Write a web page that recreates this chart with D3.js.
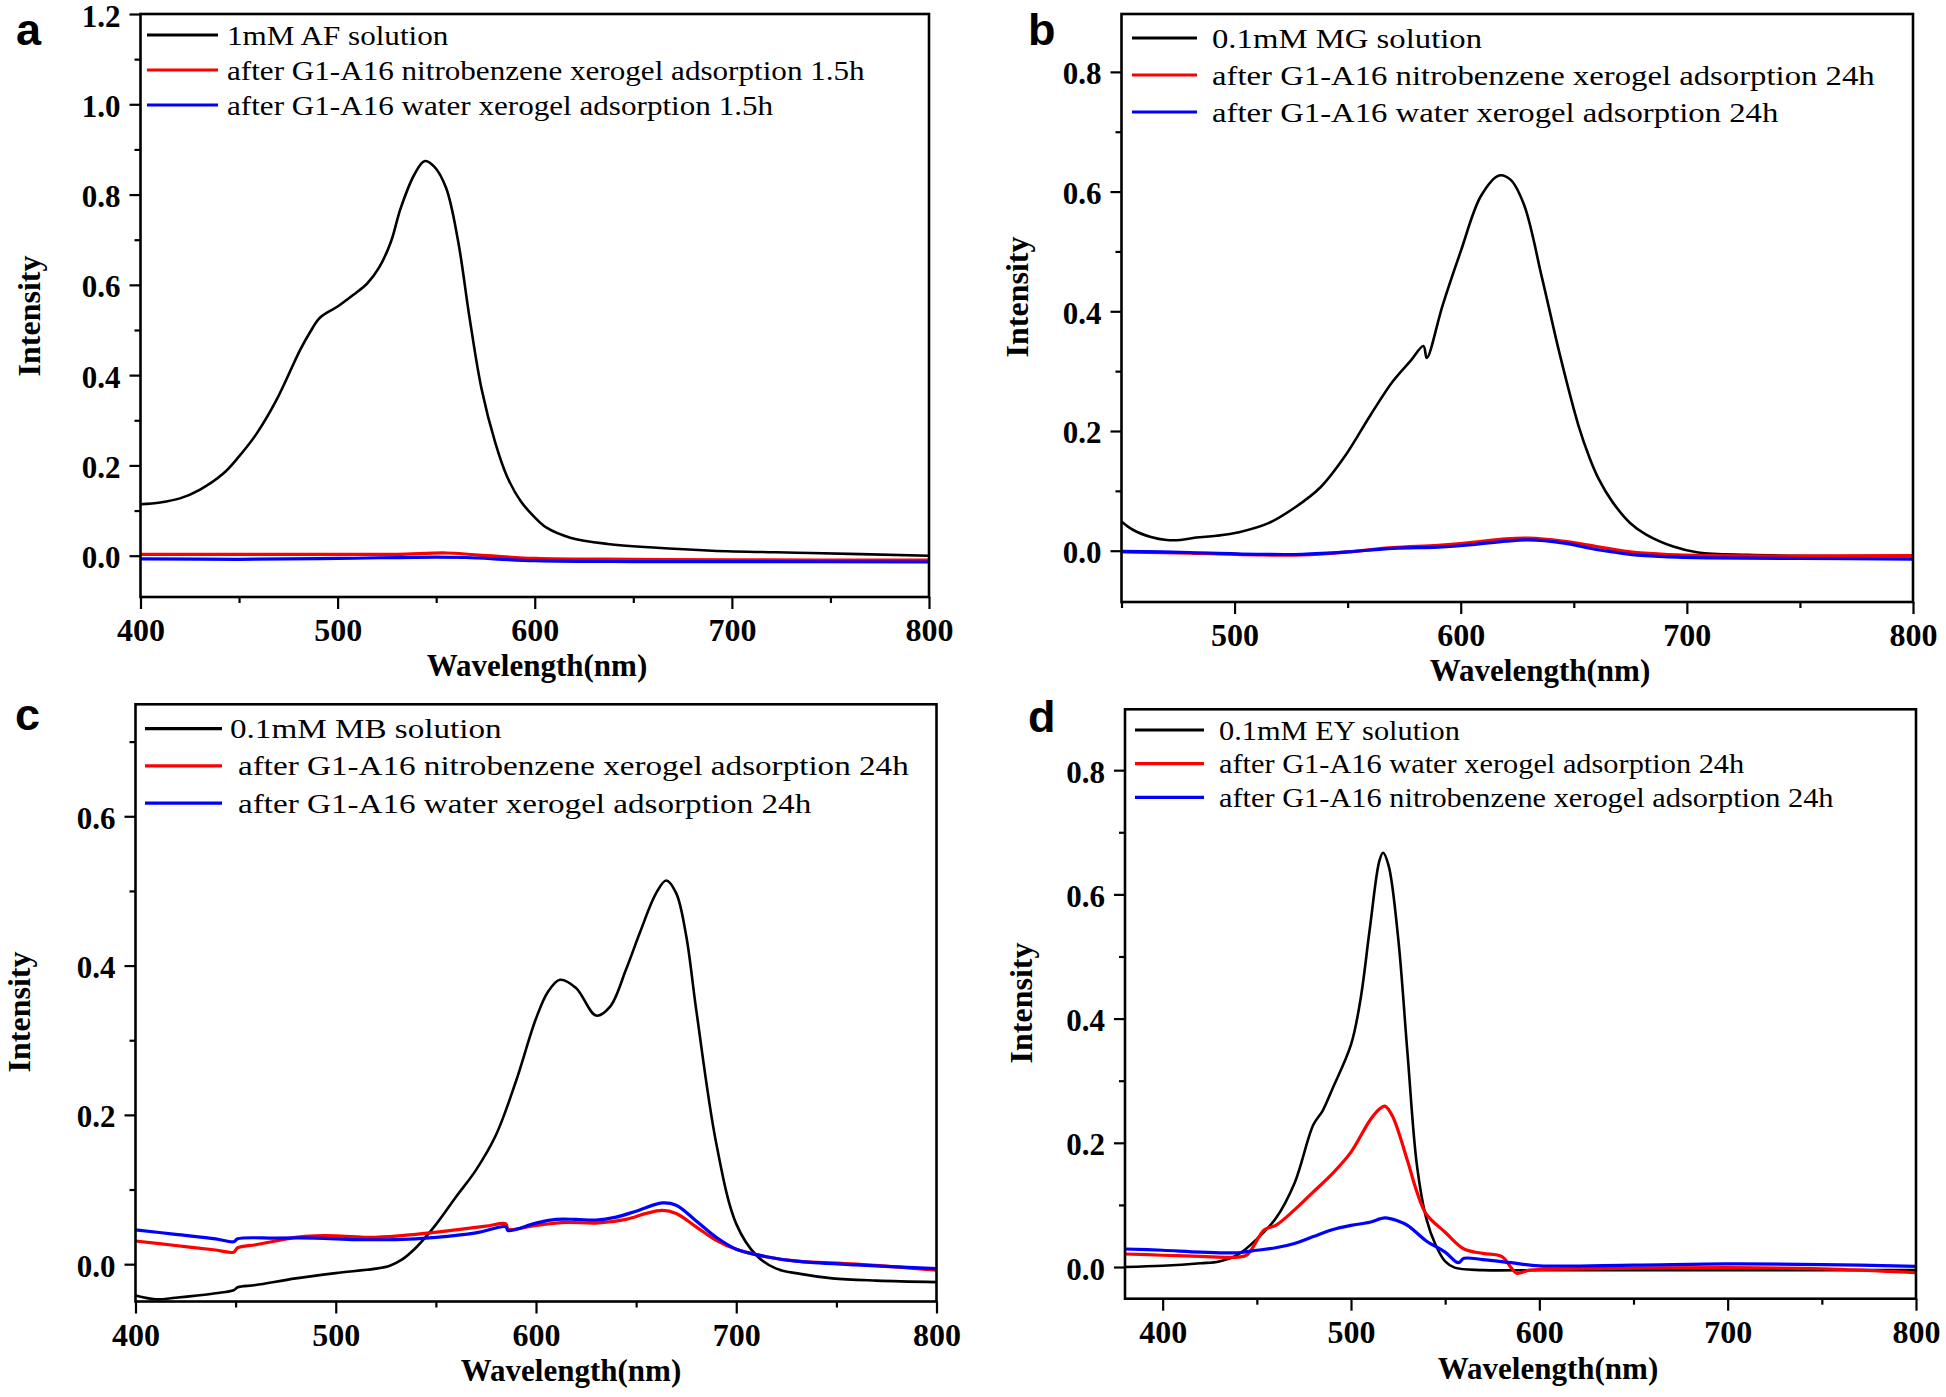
<!DOCTYPE html>
<html><head><meta charset="utf-8">
<script src="https://cdn.jsdelivr.net/npm/d3@7"></script>
<style>
html,body{margin:0;padding:0;background:#fff;}
svg{display:block;}
</style></head><body>
<svg id="chart" width="1946" height="1397"></svg>
<script>
// ---------------- DATA ----------------
// Panel a: 1mM AF
const aSolution = [[400,0.114],[410,0.118],[420,0.127],[430,0.146],[442,0.182],[450,0.220],[459,0.271],[469,0.345],[481,0.456],[486,0.495],[491,0.527],[500,0.552],[508,0.578],[515,0.603],[521,0.638],[527,0.695],[532,0.770],[539,0.845],[544,0.874],[549,0.862],[555,0.815],[561,0.700],[567,0.525],[573,0.370],[580,0.250],[586,0.175],[593,0.120],[600,0.085],[606,0.062],[618,0.040],[637,0.026],[660,0.018],[690,0.011],[740,0.006],[800,0.000]];
const aNitro = [[400,0.003],[450,0.003],[500,0.003],[530,0.003],[555,0.006],[570,0.002],[600,-0.006],[650,-0.008],[700,-0.009],[800,-0.010]];
const aWater = [[400,-0.007],[450,-0.008],[500,-0.006],[550,-0.003],[565,-0.004],[600,-0.011],[650,-0.013],[700,-0.013],[800,-0.014]];

// Panel b: 0.1mM MG
const bSolution = [[450,0.049],[455,0.035],[463,0.023],[470,0.018],[476,0.018],[483,0.022],[492,0.025],[502,0.031],[515,0.046],[527,0.073],[538,0.106],[549,0.159],[560,0.226],[570,0.283],[578,0.318],[583.5,0.342],[585,0.322],[592,0.410],[600,0.500],[609,0.593],[617,0.627],[622,0.620],[628,0.578],[636,0.455],[644,0.325],[652,0.210],[657,0.155],[661,0.120],[667,0.082],[675,0.046],[682,0.027],[694,0.007],[705,-0.003],[727,-0.007],[800,-0.009]];
const bNitro = [[450,-0.002],[480,-0.004],[510,-0.007],[530,-0.007],[550,-0.002],[570,0.005],[590,0.009],[605,0.014],[620,0.020],[630,0.021],[645,0.016],[660,0.007],[675,-0.002],[690,-0.006],[710,-0.008],[750,-0.009],[800,-0.008]];
const bWater = [[450,-0.001],[480,-0.003],[510,-0.006],[530,-0.006],[550,-0.002],[570,0.004],[590,0.006],[605,0.010],[620,0.016],[630,0.018],[645,0.013],[660,0.002],[675,-0.006],[690,-0.010],[710,-0.012],[750,-0.013],[800,-0.014]];

// Panel c: 0.1mM MB
const cSolution = [[400,-0.042],[410,-0.047],[420,-0.045],[440,-0.039],[449,-0.035],[451,-0.031],[460,-0.028],[480,-0.019],[500,-0.012],[520,-0.006],[527,-0.002],[533,0.006],[540,0.022],[550,0.053],[560,0.090],[570,0.126],[580,0.173],[590,0.245],[600,0.329],[606,0.365],[612,0.381],[620,0.370],[630,0.333],[637,0.345],[645,0.395],[652,0.445],[660,0.497],[665,0.514],[670,0.497],[675,0.440],[680,0.341],[690,0.162],[700,0.054],[710,0.012],[720,-0.006],[732,-0.013],[748,-0.019],[770,-0.022],[800,-0.024]];
const cNitro = [[400,0.031],[420,0.025],[440,0.019],[449,0.016],[451,0.022],[460,0.026],[470,0.031],[480,0.036],[490,0.038],[500,0.038],[520,0.036],[540,0.040],[560,0.046],[575,0.051],[585,0.054],[586,0.047],[600,0.052],[615,0.056],[630,0.055],[645,0.060],[655,0.068],[663,0.072],[670,0.068],[680,0.050],[690,0.032],[700,0.020],[715,0.010],[730,0.004],[760,0.000],[800,-0.008]];
const cWater = [[400,0.046],[420,0.040],[440,0.034],[449,0.030],[451,0.034],[470,0.035],[490,0.035],[510,0.033],[530,0.033],[550,0.036],[570,0.042],[585,0.050],[586,0.045],[600,0.055],[610,0.060],[620,0.060],[630,0.059],[640,0.063],[650,0.071],[663,0.082],[670,0.079],[680,0.058],[690,0.036],[700,0.020],[715,0.010],[730,0.004],[760,-0.001],[800,-0.006]];

// Panel d: 0.1mM EY
const dSolution = [[380,0.000],[400,0.002],[420,0.006],[430,0.009],[440,0.020],[450,0.045],[460,0.078],[470,0.135],[480,0.229],[485,0.252],[490,0.286],[500,0.358],[505,0.430],[510,0.545],[515,0.653],[517,0.667],[520,0.646],[525,0.531],[530,0.344],[535,0.164],[540,0.078],[545,0.035],[550,0.009],[555,-0.001],[570,-0.005],[600,-0.005],[700,-0.005],[800,-0.005]];
const dWater = [[380,0.021],[400,0.019],[420,0.017],[440,0.016],[445,0.020],[454,0.060],[460,0.067],[470,0.092],[480,0.121],[490,0.150],[500,0.185],[510,0.236],[515,0.254],[518,0.259],[522,0.243],[530,0.171],[535,0.121],[540,0.085],[550,0.056],[560,0.029],[570,0.022],[580,0.017],[585,-0.001],[588,-0.010],[595,-0.005],[620,-0.003],[700,-0.001],[750,-0.003],[800,-0.009]];
const dNitro = [[380,0.029],[400,0.027],[420,0.024],[440,0.023],[450,0.027],[460,0.031],[470,0.038],[480,0.049],[490,0.060],[500,0.067],[510,0.072],[518,0.079],[525,0.074],[530,0.067],[540,0.042],[550,0.024],[557,0.007],[560,0.014],[570,0.012],[585,0.007],[600,0.002],[650,0.003],[700,0.005],[750,0.004],[800,0.001]];

// Legend texts
const aLabels = ["1mM AF solution","after G1-A16 nitrobenzene xerogel adsorption 1.5h","after G1-A16 water xerogel adsorption 1.5h"];
const bLabels = ["0.1mM MG solution","after G1-A16 nitrobenzene xerogel adsorption 24h","after G1-A16 water xerogel adsorption 24h"];
const cLabels = ["0.1mM MB solution","after G1-A16 nitrobenzene xerogel adsorption 24h","after G1-A16 water xerogel adsorption 24h"];
const dLabels = ["0.1mM EY solution","after G1-A16 water xerogel adsorption 24h","after G1-A16 nitrobenzene xerogel adsorption 24h"];

// Ticks
const xMajorTicks = [400,500,600,700,800];
const xMinorTicks = [450,550,650,750];
const yMajorA = [0,0.2,0.4,0.6,0.8,1.0,1.2];
const yMinorA = [0.1,0.3,0.5,0.7,0.9,1.1];
const yMajorB = [0,0.2,0.4,0.6,0.8];
const yMinorB = [0.1,0.3,0.5,0.7];
const yMajorC = [0,0.2,0.4,0.6];
const yMinorC = [0.1,0.3,0.5,0.7];

const COLORS = ["#000000","#ff0000","#0000ff"];

// ---------------- LAYOUT ----------------
const panels = [
  {letter:"a", box:{l:140.5,r:929,t:14,b:597}, xd:[400,800], yd:[-0.0915,1.2],
   yMajor:yMajorA, yMinor:yMinorA,
   series:[aSolution,aNitro,aWater], labels:aLabels,
   letterPos:[16,45], yLab:[40,316], xLab:[537,676],
   leg:{x1:147,x2:218,y0:35,dy:35,tx:[227,227,227],w:638}},
  {letter:"b", box:{l:1121.5,r:1913,t:14,b:602}, xd:[450,800], yd:[-0.0857,0.8967],
   yMajor:yMajorB, yMinor:yMinorB,
   series:[bSolution,bNitro,bWater], labels:bLabels,
   letterPos:[1028,45], yLab:[1028,297], xLab:[1540,681],
   leg:{x1:1132,x2:1197,y0:38,dy:37,tx:[1212,1212,1212],w:663}},
  {letter:"c", box:{l:135.5,r:936.5,t:704.3,b:1301.5}, xd:[400,800], yd:[-0.05,0.75],
   yMajor:yMajorC, yMinor:yMinorC,
   series:[cSolution,cNitro,cWater], labels:cLabels,
   letterPos:[15,730], yLab:[30,1012], xLab:[571,1381],
   leg:{x1:145,x2:222,y0:728.7,dy:37.2,tx:[230,238,238],w:671}},
  {letter:"d", box:{l:1125,r:1916,t:709.3,b:1298.7}, xd:[380,800], yd:[-0.051,0.898],
   yMajor:yMajorB, yMinor:yMinorB,
   series:[dSolution,dWater,dNitro], labels:dLabels,
   letterPos:[1028,732], yLab:[1032,1003], xLab:[1548,1379],
   leg:{x1:1135,x2:1204,y0:730,dy:33.7,tx:[1219,1219,1219],w:615}}
];

const svg = d3.select("#chart");
svg.append("rect").attr("width",1946).attr("height",1397).attr("fill","#fff");
const SERIF = "'Liberation Serif','Times New Roman',serif";
const SANS = "'Liberation Sans',Arial,sans-serif";
const fmt = d3.format(".1f");

panels.forEach(p => {
  const B = p.box;
  const x = d3.scaleLinear().domain(p.xd).range([B.l,B.r]);
  const y = d3.scaleLinear().domain(p.yd).range([B.b,B.t]);
  const inX = v => v >= p.xd[0] - 1e-9 && v <= p.xd[1] + 1e-9;
  const g = svg.append("g");

  const cid = "clip-"+p.letter;
  svg.append("clipPath").attr("id",cid).append("rect")
    .attr("x",B.l).attr("y",B.t).attr("width",B.r-B.l).attr("height",B.b-B.t);

  // x axis major
  const xMaj = g.append("g").attr("transform",`translate(0,${B.b})`)
    .call(d3.axisBottom(x).tickValues(xMajorTicks.filter(inX)).tickSize(12).tickSizeOuter(0).tickFormat(d3.format("d")));
  xMaj.select(".domain").remove();
  xMaj.selectAll("line").attr("stroke","#000").attr("stroke-width",2.2);
  xMaj.selectAll("text").attr("font-family",SERIF).attr("font-weight","bold").attr("font-size",32).attr("fill","#000")
    .attr("dy",null).attr("y",44);
  const xMinVals = [p.xd[0]].concat(xMinorTicks).filter(v => inX(v) && xMajorTicks.indexOf(v) < 0 && v % 50 === 0);
  const xMin = g.append("g").attr("transform",`translate(0,${B.b})`)
    .call(d3.axisBottom(x).tickValues(Array.from(new Set(xMinVals))).tickSize(6).tickSizeOuter(0).tickFormat(""));
  xMin.select(".domain").remove();
  xMin.selectAll("line").attr("stroke","#000").attr("stroke-width",2.2);

  // y axis
  const yMaj = g.append("g").attr("transform",`translate(${B.l},0)`)
    .call(d3.axisLeft(y).tickValues(p.yMajor).tickSize(11).tickSizeOuter(0).tickFormat(fmt));
  yMaj.select(".domain").remove();
  yMaj.selectAll("line").attr("stroke","#000").attr("stroke-width",2.2);
  yMaj.selectAll("text").attr("font-family",SERIF).attr("font-weight","bold").attr("font-size",31).attr("fill","#000")
    .attr("dy",null).attr("y",12).attr("x",-20);
  const yMin = g.append("g").attr("transform",`translate(${B.l},0)`)
    .call(d3.axisLeft(y).tickValues(p.yMinor).tickSize(6).tickSizeOuter(0).tickFormat(""));
  yMin.select(".domain").remove();
  yMin.selectAll("line").attr("stroke","#000").attr("stroke-width",2.2);

  // lines
  const line = d3.line().x(d=>x(d[0])).y(d=>y(d[1])).curve(d3.curveCatmullRom.alpha(0.5));
  const lg = g.append("g").attr("clip-path",`url(#${cid})`);
  p.series.forEach((s,i) => {
    lg.append("path").datum(s).attr("d",line).attr("fill","none")
      .attr("stroke",COLORS[i]).attr("stroke-width", i===0 ? 2.6 : 3.2)
      .attr("stroke-linejoin","round");
  });

  // frame
  g.append("rect").attr("x",B.l).attr("y",B.t).attr("width",B.r-B.l).attr("height",B.b-B.t)
    .attr("fill","none").attr("stroke","#000").attr("stroke-width",2.6);

  // legend
  const L = p.leg;
  const texts = [];
  p.labels.forEach((lab,i) => {
    const yy = L.y0 + i*L.dy;
    g.append("line").attr("x1",L.x1).attr("x2",L.x2).attr("y1",yy).attr("y2",yy)
      .attr("stroke",COLORS[i]).attr("stroke-width",3.2);
    const t = g.append("text").attr("transform",`translate(${L.tx[i]},${yy+9.5})`)
      .attr("font-family",SERIF).attr("font-size",27).attr("fill","#000").text(lab);
    texts.push(t);
  });
  const widest = d3.max(texts, t => t.node().getComputedTextLength());
  const sx = L.w / widest;
  texts.forEach((t,i) => {
    const yy = L.y0 + i*L.dy;
    t.attr("transform",`translate(${L.tx[i]},${yy+9.5}) scale(${sx},1)`);
  });

  // axis titles
  g.append("text").attr("x",p.xLab[0]).attr("y",p.xLab[1]).attr("text-anchor","middle")
    .attr("font-family",SERIF).attr("font-weight","bold").attr("font-size",31).attr("fill","#000")
    .text("Wavelength(nm)");
  g.append("text").attr("transform",`translate(${p.yLab[0]},${p.yLab[1]}) rotate(-90)`)
    .attr("text-anchor","middle")
    .attr("font-family",SERIF).attr("font-weight","bold").attr("font-size",32).attr("fill","#000")
    .text("Intensity");

  // panel letter
  g.append("text").attr("x",p.letterPos[0]).attr("y",p.letterPos[1])
    .attr("font-family",SANS).attr("font-weight","bold").attr("font-size",45).attr("fill","#000")
    .text(p.letter);
});
</script>
</body></html>
